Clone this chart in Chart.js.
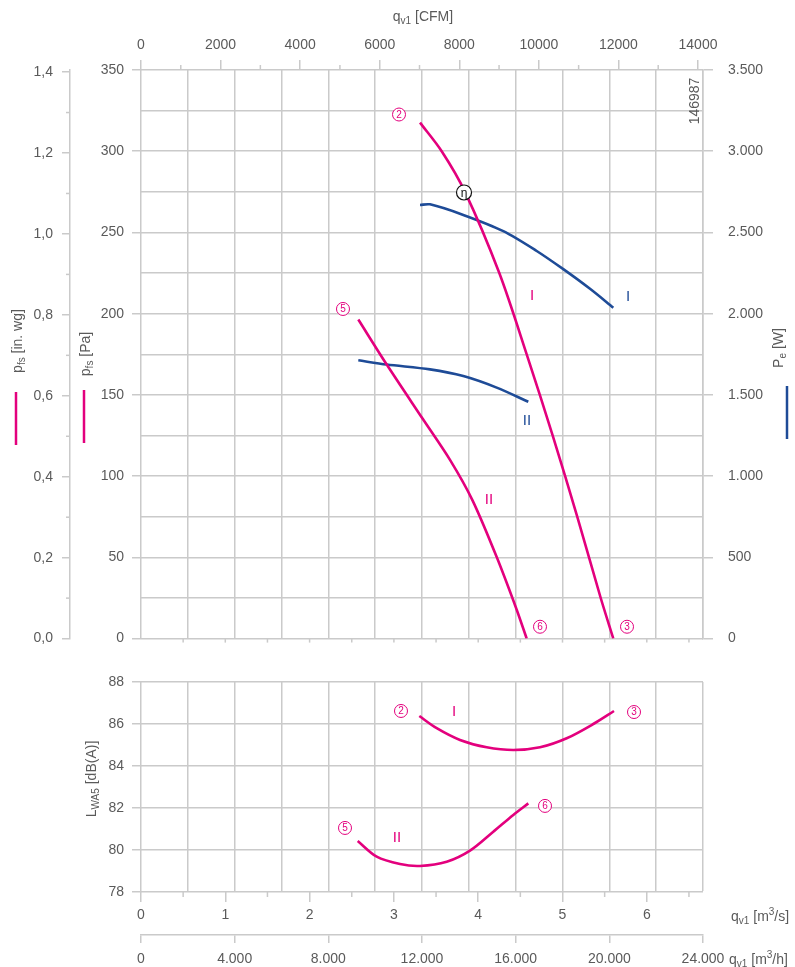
<!DOCTYPE html>
<html>
<head>
<meta charset="utf-8">
<script src="https://cdn.jsdelivr.net/npm/chart.js@4"></script>
<style>
  body { margin: 0; background: #fff; }
  canvas { display: block; }
</style>
</head>
<body>
<canvas id="top" width="795" height="662"></canvas>
<canvas id="bottom" width="795" height="305"></canvas>
<script>
// all flows in m3/h
const flowPressureI = [11915, 12841, 13836, 15301, 16471, 17582, 18632, 19632, 20170];
const pressureI = [317.6, 300, 275, 225, 175, 125, 75, 25, 0];
const flowPressureII = [9280, 10493, 12030, 13196, 14157, 15190, 16044, 16471];
const pressureII = [196.4, 168.7, 135.3, 110.0, 85.1, 50.2, 17.8, 0];

const flowPowerI = [11915, 12342, 13764, 15472, 16898, 18034, 19175, 20170];
const powerI = [2669, 2673, 2608, 2508, 2386, 2274, 2153, 2037];
const flowPowerII = [9280, 10493, 12342, 13764, 15190, 16540];
const powerII = [1713, 1687, 1657, 1616, 1545, 1458];

const flowSoundI = [11885, 12628, 13623, 14763, 15899, 17039, 18179, 19316, 20199];
const soundI = [86.38, 85.80, 85.24, 84.89, 84.76, 84.89, 85.32, 86.00, 86.62];
const flowSoundII = [9254, 10066, 11061, 11915, 13055, 14050, 15045, 15899, 16540];
const soundII = [80.43, 79.68, 79.33, 79.24, 79.44, 79.97, 80.87, 81.67, 82.22];

// tick labels
const cfmTicks = [0, 2000, 4000, 6000, 8000, 10000, 12000, 14000];
const inwgTicks = [0, 0.2, 0.4, 0.6, 0.8, 1.0, 1.2, 1.4];
const m3sTicks = [0, 1, 2, 3, 4, 5, 6];

// annotation labels: [flow m3/h, axis value, text]
const topCircles = [[11018, 322.6, '2'], [20755, 7.3, '3'], [8626, 202.9, '5'], [17039, 7.3, '6']];
const topRoman = [[16698, 210.8, 'I', 'pink'], [20797, 210.2, 'I', 'blue'], [16484, 134.3, 'II', 'blue'], [14861, 85.1, 'II', 'pink']];
const etaPoint = [13794, 274.6];
const bottomCircles = [[11103, 86.62, '2'], [21054, 86.57, '3'], [8712, 81.05, '5'], [17253, 82.10, '6']];
const bottomRoman = [[13367, 86.57, 'I'], [10932, 80.57, 'II']];

const CFM = 1.69901;    // m3/h per CFM
const INWG = 249.089;   // Pa per in. wg

const grey = '#5a5a5a';
const gridGrey = '#cacaca';
const pink = '#e3007d';
const blue = '#1e4b97';
const fam = '"Liberation Sans", Arial, sans-serif';

Chart.defaults.font.family = fam;
Chart.defaults.font.size = 14;
Chart.defaults.color = grey;

const dots = v => String(v).replace(/\B(?=(\d{3})+(?!\d))/g, '.');
const fixTicks = list => s => { s.ticks = list.map(v => ({ value: v })); };

const line = (xs, ys, color, yId) => ({
  data: xs.map((x, i) => ({ x: x, y: ys[i] })),
  borderColor: color,
  borderWidth: 2.6,
  pointRadius: 0,
  showLine: true,
  fill: false,
  tension: 0.3,
  xAxisID: 'x',
  yAxisID: yId
});

// text with sub/superscripts
function rich(ctx, parts, x, y, align, rot) {
  ctx.save();
  ctx.translate(x, y);
  if (rot) ctx.rotate(rot);
  let w = 0;
  parts.forEach(p => {
    ctx.font = (p[1] ? 10 : 14) + 'px ' + fam;
    w += ctx.measureText(p[0]).width;
  });
  let cx = align === 'left' ? 0 : -w / 2;
  ctx.textAlign = 'left';
  ctx.textBaseline = 'middle';
  ctx.fillStyle = grey;
  parts.forEach(p => {
    ctx.font = (p[1] ? 10 : 14) + 'px ' + fam;
    const dy = p[1] === 'sub' ? 4 : p[1] === 'sup' ? -5 : 0;
    ctx.fillText(p[0], cx, dy);
    cx += ctx.measureText(p[0]).width;
  });
  ctx.restore();
}

function circled(ctx, x, y, t, color) {
  ctx.beginPath();
  ctx.arc(x, y, 6.5, 0, Math.PI * 2);
  ctx.fillStyle = '#fff';
  ctx.fill();
  ctx.lineWidth = 1;
  ctx.strokeStyle = color;
  ctx.stroke();
  ctx.fillStyle = color;
  ctx.font = '10px ' + fam;
  ctx.textAlign = 'center';
  ctx.textBaseline = 'middle';
  ctx.fillText(t, x, y + 0.5);
}

function roman(ctx, x, y, t, color) {
  ctx.fillStyle = color;
  ctx.font = '15px ' + fam;
  ctx.textAlign = 'center';
  ctx.textBaseline = 'middle';
  ctx.fillText(t, x, y);
}

function vline(ctx, x, y1, y2, color, w) {
  ctx.beginPath();
  ctx.moveTo(x, y1);
  ctx.lineTo(x, y2);
  ctx.lineWidth = w;
  ctx.strokeStyle = color;
  ctx.stroke();
}
function hline(ctx, x1, x2, y, color, w) {
  ctx.beginPath();
  ctx.moveTo(x1, y);
  ctx.lineTo(x2, y);
  ctx.lineWidth = w;
  ctx.strokeStyle = color;
  ctx.stroke();
}

const topDecor = {
  id: 'topDecor',
  afterDraw(chart) {
    const ctx = chart.ctx;
    const { x, xC, yPa, yIn } = chart.scales;
    const area = chart.chartArea;
    ctx.save();
    // minor ticks
    for (let v = 1000; v < 14126; v += 2000) vline(ctx, xC.getPixelForValue(v), area.top, area.top - 5, gridGrey, 1.5);
    for (let v = 0.1; v < 1.4; v += 0.2) hline(ctx, yIn.right, yIn.right - 4, yIn.getPixelForValue(v), gridGrey, 1.5);
    for (let v = 0.5; v < 6.67; v += 0.5) vline(ctx, x.getPixelForValue(v * 3600), area.bottom, area.bottom + 4, gridGrey, 1.5);

    // axis titles
    rich(ctx, [['q'], ['v1', 'sub'], [' [CFM]']], 423, 17, 'center');
    rich(ctx, [['p'], ['fs', 'sub'], [' [in. wg]']], 18, 341, 'center', -Math.PI / 2);
    rich(ctx, [['p'], ['fs', 'sub'], [' [Pa]']], 86, 354, 'center', -Math.PI / 2);
    rich(ctx, [['P'], ['e', 'sub'], [' [W]']], 779, 348, 'center', -Math.PI / 2);
    vline(ctx, 16, 392, 445, pink, 2.5);
    vline(ctx, 84, 390, 443, pink, 2.5);
    vline(ctx, 787, 386, 439, blue, 2.5);

    ctx.save();
    ctx.translate(695, 101);
    ctx.rotate(-Math.PI / 2);
    ctx.font = '14px ' + fam;
    ctx.fillStyle = grey;
    ctx.textAlign = 'center';
    ctx.textBaseline = 'middle';
    ctx.fillText('146987', 0, 0);
    ctx.restore();

    // curve labels
    topCircles.forEach(c => circled(ctx, x.getPixelForValue(c[0]), yPa.getPixelForValue(c[1]), c[2], pink));
    topRoman.forEach(r => roman(ctx, x.getPixelForValue(r[0]), yPa.getPixelForValue(r[1]), r[2], r[3] === 'pink' ? pink : blue));
    const ex = x.getPixelForValue(etaPoint[0]), ey = yPa.getPixelForValue(etaPoint[1]);
    ctx.beginPath();
    ctx.arc(ex, ey, 7.5, 0, Math.PI * 2);
    ctx.fillStyle = '#fff';
    ctx.fill();
    ctx.lineWidth = 1.2;
    ctx.strokeStyle = '#111';
    ctx.stroke();
    ctx.fillStyle = '#111';
    ctx.font = '12px ' + fam;
    ctx.textAlign = 'center';
    ctx.textBaseline = 'middle';
    ctx.fillText('η', ex, ey + 1);
    ctx.restore();
  }
};

const bottomDecor = {
  id: 'bottomDecor',
  afterDraw(chart) {
    const ctx = chart.ctx;
    const { x, xS, y } = chart.scales;
    ctx.save();
    for (let v = 0.5; v < 6.67; v += 1) vline(ctx, xS.getPixelForValue(v), xS.top, xS.top + 5, gridGrey, 1.5);

    rich(ctx, [['L'], ['WA5', 'sub'], [' [dB(A)]']], 92, 117, 'center', -Math.PI / 2);
    rich(ctx, [['q'], ['v1', 'sub'], [' [m'], ['3', 'sup'], ['/s]']], 731, 255, 'left');
    rich(ctx, [['q'], ['v1', 'sub'], [' [m'], ['3', 'sup'], ['/h]']], 729, 298, 'left');

    bottomCircles.forEach(c => circled(ctx, x.getPixelForValue(c[0]), y.getPixelForValue(c[1]), c[2], pink));
    bottomRoman.forEach(r => roman(ctx, x.getPixelForValue(r[0]), y.getPixelForValue(r[1]), r[2], pink));
    ctx.restore();
  }
};

const gridBase = { color: gridGrey, lineWidth: 1.5, tickColor: gridGrey, tickWidth: 1.5 };

new Chart(document.getElementById('top'), {
  type: 'scatter',
  data: {
    datasets: [
      line(flowPressureI, pressureI, pink, 'yPa'),
      line(flowPressureII, pressureII, pink, 'yPa'),
      line(flowPowerI, powerI, blue, 'yW'),
      line(flowPowerII, powerII, blue, 'yW')
    ]
  },
  options: {
    responsive: false,
    animation: false,
    layout: { padding: 0 },
    plugins: { legend: { display: false }, tooltip: { enabled: false } },
    scales: {
      x: {
        axis: 'x', type: 'linear', position: 'bottom', min: 0, max: 24000,
        ticks: { stepSize: 2000, display: false },
        grid: Object.assign({}, gridBase, { drawTicks: false }),
        border: { display: false },
        afterFit: s => { s.height = 16; }
      },
      xC: {
        axis: 'x', type: 'linear', position: 'top', min: 0, max: 24000 / CFM,
        afterBuildTicks: fixTicks(cfmTicks),
        ticks: { autoSkip: false, maxRotation: 0, padding: 6, callback: v => String(v) },
        grid: Object.assign({}, gridBase, { drawOnChartArea: false, tickLength: 10 }),
        border: { display: false },
        afterFit: s => { s.height = 70; }
      },
      yPa: {
        axis: 'y', type: 'linear', position: 'left', weight: 0, min: 0, max: 350,
        ticks: { stepSize: 25, autoSkip: false, padding: 8, callback: v => (v % 50 === 0 ? String(v) : '') },
        grid: Object.assign({}, gridBase, {
          tickLength: 9,
          tickColor: c => (c.tick && c.tick.value % 50 === 0 ? gridGrey : 'rgba(0,0,0,0)')
        }),
        border: { display: false },
        afterFit: s => { s.width = 71; }
      },
      yIn: {
        axis: 'y', type: 'linear', position: 'left', weight: 1, min: 0, max: 350 / INWG,
        afterBuildTicks: fixTicks(inwgTicks),
        ticks: { autoSkip: false, padding: 9, callback: v => v.toFixed(1).replace('.', ',') },
        grid: Object.assign({}, gridBase, { drawOnChartArea: false, tickLength: 8 }),
        border: { display: true, color: gridGrey, width: 1.5 },
        afterFit: s => { s.width = 70; }
      },
      yW: {
        axis: 'y', type: 'linear', position: 'right', min: 0, max: 3500,
        ticks: { stepSize: 500, autoSkip: false, padding: 15, callback: v => dots(v) },
        grid: Object.assign({}, gridBase, { drawOnChartArea: false, tickLength: 10 }),
        border: { display: true, color: gridGrey, width: 1.5 },
        afterFit: s => { s.width = 92; }
      }
    }
  },
  plugins: [topDecor]
});

new Chart(document.getElementById('bottom'), {
  type: 'scatter',
  data: {
    datasets: [
      line(flowSoundI, soundI, pink, 'y'),
      line(flowSoundII, soundII, pink, 'y')
    ]
  },
  options: {
    responsive: false,
    animation: false,
    layout: { padding: { top: 20, right: 92, left: 0, bottom: 0 } },
    plugins: { legend: { display: false }, tooltip: { enabled: false } },
    scales: {
      y: {
        axis: 'y', type: 'linear', position: 'left', min: 78, max: 88,
        ticks: { stepSize: 2, autoSkip: false, padding: 8 },
        grid: Object.assign({}, gridBase, { tickLength: 9 }),
        border: { display: false },
        afterFit: s => { s.width = 141; }
      },
      xS: {
        axis: 'x', type: 'linear', position: 'bottom', weight: 1, min: 0, max: 24000 / 3600,
        afterBuildTicks: fixTicks(m3sTicks),
        ticks: { autoSkip: false, maxRotation: 0, padding: 5 },
        grid: Object.assign({}, gridBase, { drawOnChartArea: false, tickLength: 10 }),
        border: { display: false },
        afterFit: s => { s.height = 43; }
      },
      x: {
        axis: 'x', type: 'linear', position: 'bottom', weight: 2, min: 0, max: 24000,
        ticks: { stepSize: 2000, autoSkip: false, maxRotation: 0, padding: 8, callback: v => (v % 4000 === 0 ? dots(v) : '') },
        grid: Object.assign({}, gridBase, {
          tickLength: 8,
          tickColor: c => (c.tick && c.tick.value % 4000 === 0 ? gridGrey : 'rgba(0,0,0,0)')
        }),
        border: { display: true, color: gridGrey, width: 1.5 },
        afterFit: s => { s.height = 32; }
      }
    }
  },
  plugins: [bottomDecor]
});
</script>
</body>
</html>
